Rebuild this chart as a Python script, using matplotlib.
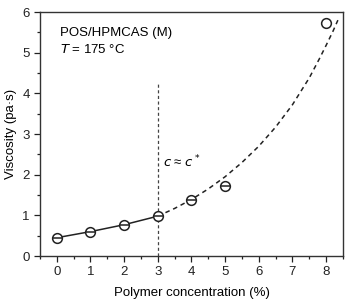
import numpy as np
import matplotlib.pyplot as plt
from matplotlib.ticker import MultipleLocator

plt.rcParams['font.family'] = ['Liberation Sans', 'DejaVu Sans']

conc = [0, 1, 2, 3, 4, 5, 8]
visc = [0.45, 0.60, 0.77, 0.98, 1.38, 1.72, 5.73]
# points with the bar through the marker
bar_idx = [0, 1, 2, 3, 4, 5]

# solid segment below c*
lin_x = [0, 1, 2, 3]
lin_y = [0.45, 0.60, 0.77, 0.98]

# dashed fit curve above c*
fit_x = [3.0, 3.5, 4.0, 4.5, 5.0, 5.5, 6.0, 6.5, 7.0, 7.5, 7.8, 8.0, 8.2, 8.35]
fit_y = [0.98, 1.17, 1.39, 1.65, 1.95, 2.30, 2.70, 3.17, 3.72, 4.38, 4.85, 5.18, 5.52, 5.80]

c_star = 3
c_star_top = 4.25

fig = plt.figure(figsize=(3.51, 3.01), dpi=100)
ax = fig.add_axes([0.114, 0.1495, 0.863, 0.8105])

ax.plot(lin_x, lin_y, color="#222222", lw=1.1, zorder=2)
ax.plot(fit_x, fit_y, color="#222222", lw=1.1, ls=(0, (3, 2.5)), zorder=2)
ax.plot([c_star, c_star], [0, c_star_top], color="#444444", lw=0.9, ls=(0, (2.5, 2)), zorder=1)

ax.plot(conc, visc, "o", ms=7, mfc="white", mec="#222222", mew=1.1, zorder=3)
ax.plot([conc[i] for i in bar_idx], [visc[i] for i in bar_idx], "_", ms=7,
        mec="#222222", mew=1.1, zorder=4)

ax.text(0.1, 5.49, "POS/HPMCAS (M)", fontsize=9.5, va="center")
ax.text(0.1, 5.08, "$T$ = 175 °C", fontsize=9.5, va="center")
ax.text(3.15, 2.3, "$c$ ≈ $c^*$", fontsize=9.5, va="center")

ax.set_xlim(-0.5, 8.5)
ax.set_ylim(0, 6)
ax.xaxis.set_major_locator(MultipleLocator(1))
ax.xaxis.set_minor_locator(MultipleLocator(0.5))
ax.yaxis.set_major_locator(MultipleLocator(1))
ax.yaxis.set_minor_locator(MultipleLocator(0.5))
ax.tick_params(which="both", direction="out", colors="#222222", labelsize=9.5, width=0.9)
ax.tick_params(which="major", length=4)
ax.tick_params(which="minor", length=2.5)
for s in ax.spines.values():
    s.set_color("#333333")
    s.set_linewidth(1.0)

ax.set_xlabel("Polymer concentration (%)", fontsize=9.5, labelpad=6)
ax.set_ylabel("Viscosity (pa·s)", fontsize=9.5, labelpad=4)

fig.savefig("out.png", dpi=100)
